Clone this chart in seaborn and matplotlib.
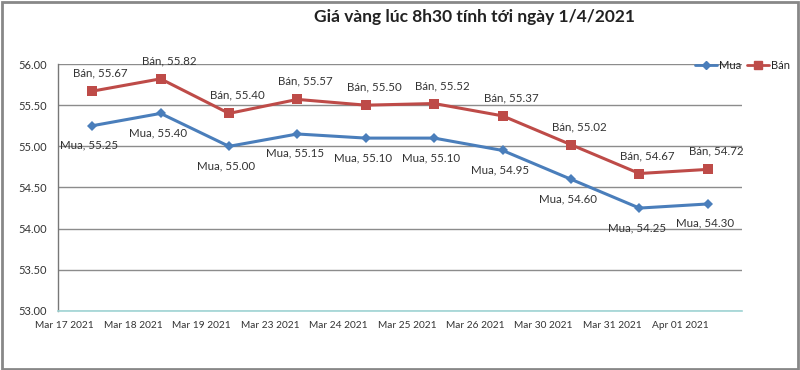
import matplotlib
matplotlib.use("Agg")
import matplotlib.pyplot as plt
import seaborn as sns
import pandas as pd
import numpy as np
from matplotlib.patches import Rectangle
from matplotlib.lines import Line2D

dates = ["Mar 17 2021", "Mar 18 2021", "Mar 19 2021", "Mar 23 2021", "Mar 24 2021",
         "Mar 25 2021", "Mar 26 2021", "Mar 30 2021", "Mar 31 2021", "Apr 01 2021"]
mua = [55.25, 55.40, 55.00, 55.15, 55.10, 55.10, 54.95, 54.60, 54.25, 54.30]
ban = [55.67, 55.82, 55.40, 55.57, 55.50, 55.52, 55.37, 55.02, 54.67, 54.72]
yticks = [53.0, 53.5, 54.0, 54.5, 55.0, 55.5, 56.0]
title = "Giá vàng lúc 8h30 tính tới ngày 1/4/2021"

sns.set_theme(style="white")
plt.rcParams['font.family'] = ['Lato', 'DejaVu Sans']

n = len(dates)
pos = np.arange(n) + 0.5
df = pd.DataFrame({
    "x": np.concatenate([pos, pos]),
    "y": mua + ban,
    "s": ["Mua"] * n + ["Bán"] * n,
})

fig = plt.figure(figsize=(8, 3.7), dpi=100)
ax = fig.add_axes([0.0725, 0.1595, 0.855, 0.6675])
blue = "#4A7EBB"
red = "#BE4B48"
sns.lineplot(data=df, x="x", y="y", hue="s", style="s",
             palette={"Mua": blue, "Bán": red},
             markers={"Mua": "D", "Bán": "s"}, dashes=False,
             markersize=7, linewidth=2.2, markeredgewidth=0, ax=ax, legend=False)
for line in ax.lines:
    if line.get_marker() == "D":
        line.set_markersize(5.5)

ax.set_xlim(0, n)
ax.set_ylim(53, 56)
ax.set_yticks(yticks)
ax.set_yticklabels([f"{v:.2f}" for v in yticks], fontsize=8, color="#333333")
ax.set_xticks(np.arange(n + 1))
ax.set_xticklabels([], minor=False)
ax.set_xticks(np.arange(n) + 0.1, minor=True)
ax.set_xticklabels(dates, minor=True, fontsize=7.3, color="#333333")
ax.tick_params(axis="x", which="minor", length=0, pad=7)
ax.tick_params(axis="x", which="major", length=4, color="#9fd4d4", direction="out")
ax.tick_params(axis="y", length=4, color="#666666", direction="out", pad=4)
ax.set_xlabel("")
ax.set_ylabel("")
ax.yaxis.grid(True, color="#8c8c8c", linewidth=1)
ax.set_axisbelow(True)
for sp in ["top", "right"]:
    ax.spines[sp].set_visible(False)
ax.spines["left"].set_color("#777777")
ax.spines["left"].set_linewidth(1)
ax.spines["bottom"].set_color("#9fd4d4")
ax.spines["bottom"].set_linewidth(1.2)

for x, v in zip(pos, ban):
    ax.annotate(f"Bán, {v:.2f}", (x, v), xytext=(6, 9), textcoords="offset points",
                ha="center", va="bottom", fontsize=8.3, color="#333333")
for x, v in zip(pos, mua):
    ax.annotate(f"Mua, {v:.2f}", (x, v), xytext=(-2, -10), textcoords="offset points",
                ha="center", va="top", fontsize=8.3, color="#333333")

handles = [Line2D([], [], color=blue, marker="D", markersize=4.5, lw=2),
           Line2D([], [], color=red, marker="s", markersize=5.5, lw=2)]
fig.legend(handles, ["Mua", "Bán"], loc="center", bbox_to_anchor=(0.928, 0.822),
           ncol=2, frameon=False, fontsize=8, handlelength=2.0, handletextpad=0.15,
           columnspacing=0.5, borderpad=0.1)

fig.text(0.5925, 0.955, title, ha="center", va="center", fontsize=12.5,
         fontweight="bold", color="#222222")

fig.add_artist(Rectangle((0.002, 0.004), 0.996, 0.99, transform=fig.transFigure,
                         fill=False, edgecolor="#888888", linewidth=2))

fig.savefig("out.png", dpi=100, facecolor="white")
